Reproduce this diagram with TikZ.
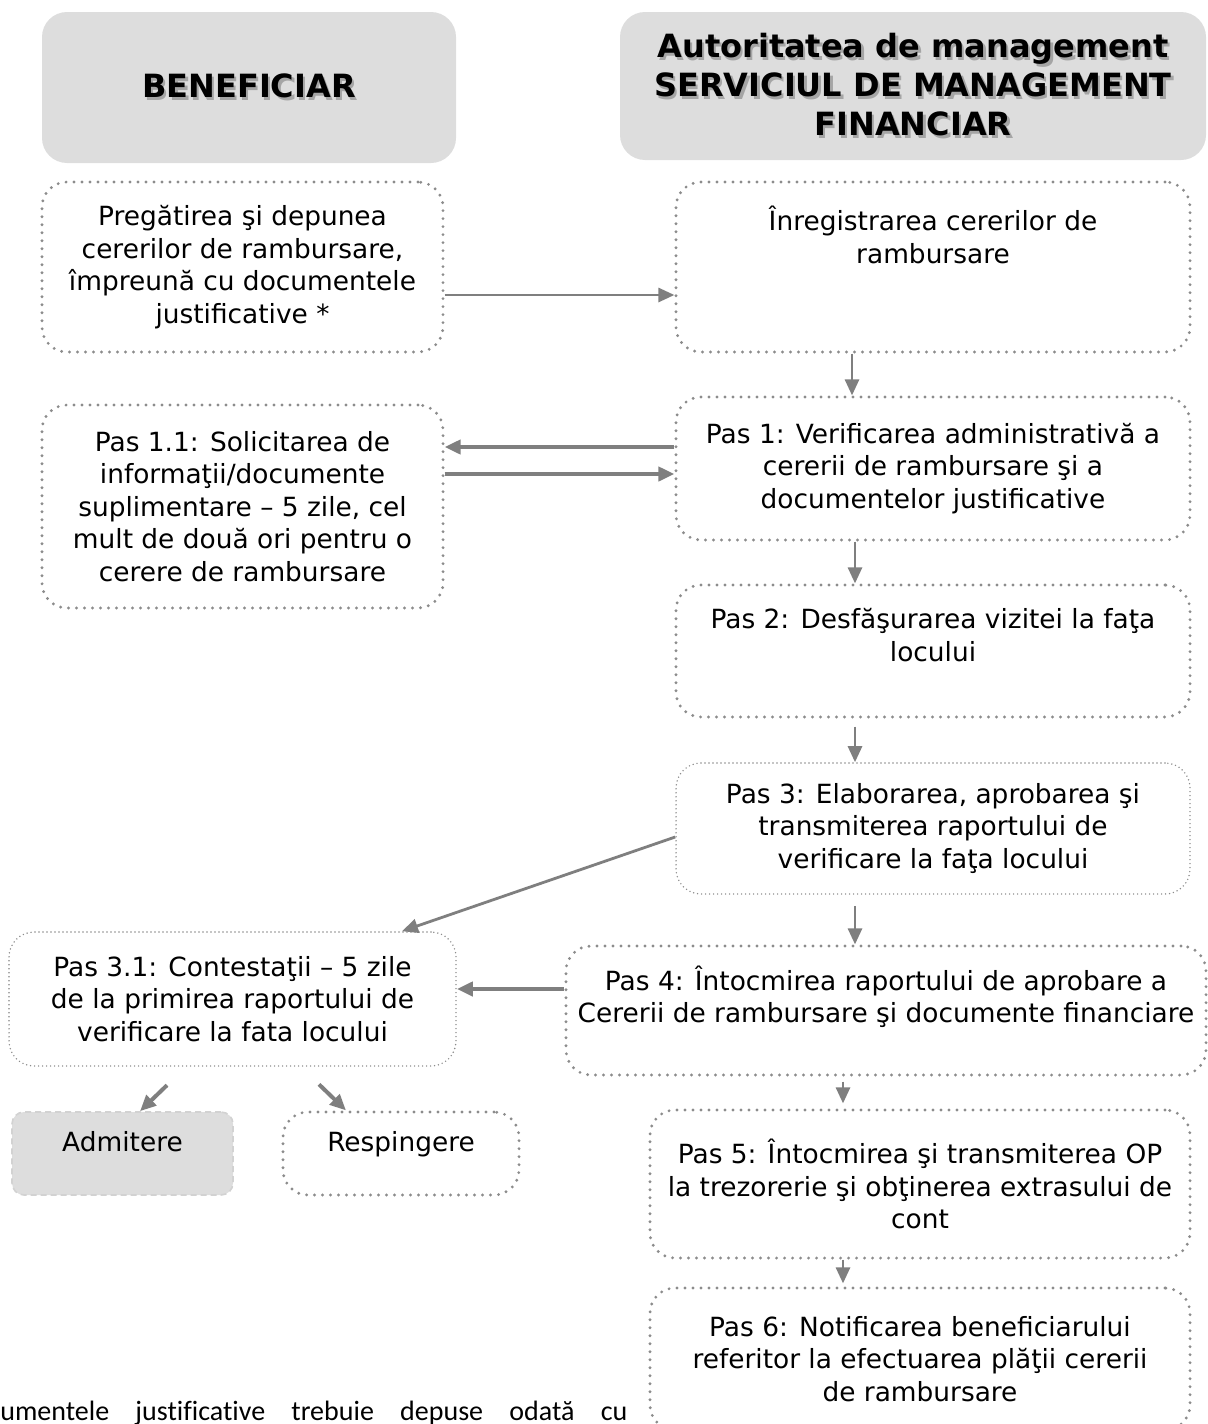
\documentclass[tikz,border=0pt]{standalone}
\usepackage{fontspec}
\setmainfont{DejaVu Sans}
\newfontfamily\notefont[Ligatures=NoCommon]{Carlito}
\usetikzlibrary{arrows.meta}
\definecolor{hdgray}{HTML}{DDDDDD}
\definecolor{lngray}{HTML}{7F7F7F}
\definecolor{dotgray}{HTML}{8C8C8C}
\definecolor{shdgray}{HTML}{A5A5A5}
\newcommand\hdshadow[1]{\leavevmode\rlap{\kern1.2pt\raisebox{-1.2pt}{\color{shdgray}#1}}#1}
\tikzset{
	hdbox/.style={fill=hdgray, rounded corners=12.5pt, align=center, font=\fontsize{16}{19.5}\selectfont\bfseries},
	dotbox/.style={draw=dotgray, line width=1.6pt, dash pattern=on 0pt off 4pt, line cap=round, rounded corners=12.5pt, align=center, inner sep=2pt},
	thinbox/.style={draw=dotgray, line width=0.8pt, dash pattern=on 0pt off 2pt, line cap=round, rounded corners=12.5pt, align=center, inner sep=2pt},
	greybox/.style={fill=hdgray, draw=gray!35, line width=0.8pt, densely dashed, rounded corners=6pt},
	flow/.style={->, draw=lngray, line width=1.4pt},
	bigflow/.style={->, draw=lngray, line width=2pt}
}
\begin{document}
\begin{tikzpicture}[x=0.5pt, y=-0.5pt, >={Triangle[length=8pt,width=7pt]}, font=\fontsize{13.2}{16.25}\selectfont, line join=round]
	\useasboundingbox (0,0) rectangle (1208,1424);
	\node[hdbox, minimum width=207pt, minimum height=75.5pt] (ben) at (249,87.5) {\hdshadow{BENEFICIAR}};
	\node[hdbox, minimum width=293pt, minimum height=74pt] (am) at (913,86) {\hdshadow{Autoritatea de management}\\\hdshadow{SERVICIUL DE MANAGEMENT}\\\hdshadow{FINANCIAR}};
	
	\node[dotbox, minimum width=200.5pt, minimum height=85pt] (prep) at (242.5,267) {Pregătirea şi depunea\\cererilor de rambursare,\\împreună cu documentele\\justificative *};
	\node[dotbox, minimum width=257pt, minimum height=85pt] (inreg) at (933,267) {Înregistrarea cererilor de\\rambursare\\\mbox{}\\\mbox{}};
	\node[dotbox, minimum width=257pt, minimum height=71.5pt] (pas1) at (933,468.5) {Pas 1: Verificarea administrativă a\\cererii de rambursare şi a\\documentelor justificative};
	\node[dotbox, minimum width=200.5pt, minimum height=101.5pt] (pas11) at (242.5,506.5) {Pas 1.1: Solicitarea de\\informaţii/documente\\suplimentare – 5 zile, cel\\mult de două ori pentru o\\cerere de rambursare};
	\node[dotbox, minimum width=257pt, minimum height=66pt] (pas2) at (933,651) {Pas 2: Desfăşurarea vizitei la faţa\\locului\\\mbox{}};
	\node[thinbox, minimum width=257pt, minimum height=65.5pt] (pas3) at (933,828.5) {Pas 3: Elaborarea, aprobarea şi\\transmiterea raportului de\\verificare la faţa locului};
	\node[thinbox, minimum width=223.5pt, minimum height=67pt] (pas31) at (232.5,999) {Pas 3.1: Contestaţii – 5 zile\\de la primirea raportului de\\verificare la fata locului};
	\node[dotbox, minimum width=320pt, minimum height=64.5pt] (pas4) at (886,1010.5) {Pas 4: Întocmirea raportului de aprobare a\\Cererii de rambursare şi documente financiare\\\mbox{}};
	\node[dotbox, minimum width=270pt, minimum height=74pt] (pas5) at (920,1184) {Pas 5: Întocmirea şi transmiterea OP\\la trezorerie şi obţinerea extrasului de\\cont};
	\node[dotbox, minimum width=270pt, minimum height=71pt] (pas6) at (920,1359) {Pas 6: Notificarea beneficiarului\\referitor la efectuarea plăţii cererii\\de rambursare};
	\node[greybox, minimum width=110.5pt, minimum height=41.5pt, text depth=12pt] (adm) at (122.5,1153.5) {Admitere};
	\node[dotbox, minimum width=118pt, minimum height=41.5pt, text depth=12pt] (resp) at (401,1153.5) {Respingere};
	
	\node[anchor=base west, inner sep=0pt, font=\notefont\fontsize{14}{16}\selectfont] (nota) at (0,1420) {\makebox[313.5pt][s]{umentele justificative trebuie depuse odată cu}};
	
	\draw[flow] ([yshift=-14pt]prep.east) -- ([yshift=-14pt]prep.east -| inreg.west);
	\draw[flow] ([xshift=-40.5pt]inreg.south) -- ([xshift=-40.5pt]inreg.south |- pas1.north);
	\draw[bigflow] ([yshift=10.75pt]pas1.west) -- ([yshift=10.75pt]pas1.west -| pas11.east);
	\draw[bigflow] ([yshift=-2.75pt]pas1.west -| pas11.east) -- ([yshift=-2.75pt]pas1.west);
	\draw[flow] ([xshift=-39pt]pas1.south) -- ([xshift=-39pt]pas1.south |- pas2.north);
	\draw[flow, shorten <=4pt] ([xshift=-39pt]pas2.south) -- ([xshift=-39pt]pas2.south |- pas3.north);
	\draw[flow] ([yshift=-4.25pt]pas3.west) -- ([xshift=84.75pt]pas31.north);
	\draw[flow, shorten <=5.5pt] ([xshift=-39pt]pas3.south) -- ([xshift=-39pt]pas3.south |- pas4.north);
	\draw[bigflow] ([yshift=10.75pt]pas4.west) -- ([yshift=10.75pt]pas4.west -| pas31.east);
	\draw[flow, shorten <=2.5pt, shorten >=2.5pt] ([xshift=-21.5pt]pas4.south) -- ([xshift=-21.5pt]pas4.south |- pas5.north);
	\draw[flow, shorten >=1.5pt] ([xshift=-38.5pt]pas5.south) -- ([xshift=-38.5pt]pas5.south |- pas6.north);
	\draw[bigflow] ([xshift=22.25pt,yshift=13pt]adm.north) -- ([xshift=8.75pt]adm.north);
	\draw[bigflow] ([xshift=-41pt,yshift=13pt]resp.north) -- ([xshift=-27.5pt]resp.north);
\end{tikzpicture}
\end{document}
